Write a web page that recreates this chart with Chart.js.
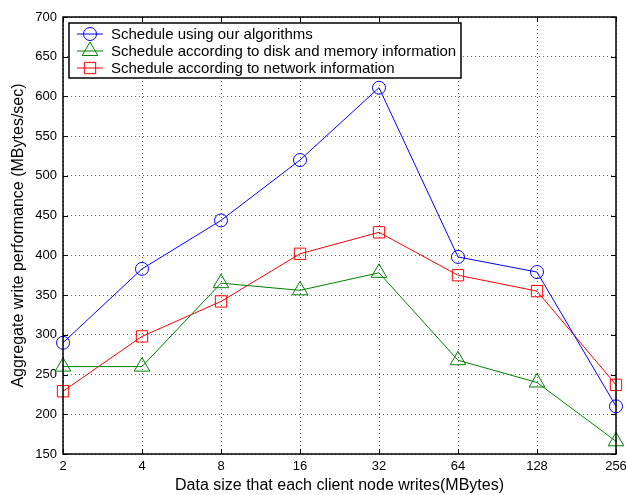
<!DOCTYPE html>
<html>
<head>
<meta charset="utf-8">
<script src="https://cdn.jsdelivr.net/npm/chart.js@4.4.1/dist/chart.umd.min.js"></script>
<style>
  html, body { margin: 0; padding: 0; background: #fff; }
  #wrap { width: 626px; height: 495px; position: relative; }
</style>
</head>
<body>
<div id="wrap"><canvas id="chWrite"></canvas></div>
<script>
// Data size per client node (MBytes) and aggregate write throughput (MBytes/sec)
const sizes = ['2', '4', '8', '16', '32', '64', '128', '256'];
const ourAlgo = [290, 383, 444, 520, 611, 398, 379, 210];
const diskMem = [260, 260, 365, 356, 378, 268, 240, 166];
const netInfo = [229, 298, 342, 402, 429, 375, 355, 237];

const seriesNames = [
  'Schedule using our algorithms',
  'Schedule according to disk and memory information',
  'Schedule according to network information'
];

const FONT = '"Liberation Sans", Arial, Helvetica, sans-serif';

// frame round the plot + small inward tick marks on all four sides
const framePlugin = {
  id: 'frame',
  afterDraw(chart) {
    const { ctx, chartArea: a, scales } = chart;
    ctx.save();
    ctx.strokeStyle = '#000';
    ctx.lineWidth = 1.5;
    ctx.strokeRect(a.left, a.top, a.right - a.left, a.bottom - a.top);
    ctx.lineWidth = 1;
    ctx.beginPath();
    scales.x.ticks.forEach((t, i) => {
      const x = Math.round(scales.x.getPixelForTick(i)) + 0.5;
      ctx.moveTo(x, a.bottom); ctx.lineTo(x, a.bottom - 5);
      ctx.moveTo(x, a.top); ctx.lineTo(x, a.top + 5);
    });
    scales.y.ticks.forEach(t => {
      const y = Math.round(scales.y.getPixelForValue(t.value)) + 0.5;
      ctx.moveTo(a.left, y); ctx.lineTo(a.left + 5, y);
      ctx.moveTo(a.right, y); ctx.lineTo(a.right - 5, y);
    });
    ctx.stroke();
    ctx.restore();
  }
};

// boxed legend inside the top-left corner of the plot
const boxLegend = {
  id: 'boxLegend',
  afterDraw(chart) {
    const { ctx, chartArea: a } = chart;
    const x0 = a.left + 6, y0 = a.top + 6, w = 392, rowH = 17;
    ctx.save();
    ctx.fillStyle = '#fff';
    ctx.fillRect(x0, y0, w, rowH * 3 + 4);
    ctx.strokeStyle = '#000';
    ctx.lineWidth = 1.5;
    ctx.strokeRect(x0, y0, w, rowH * 3 + 4);
    ctx.font = '15px ' + FONT;
    ctx.textBaseline = 'middle';
    chart.data.datasets.forEach((ds, i) => {
      const y = y0 + 11 + i * rowH;
      ctx.strokeStyle = ds.borderColor;
      ctx.lineWidth = 1;
      ctx.beginPath();
      ctx.moveTo(x0 + 8, y); ctx.lineTo(x0 + 34, y);
      ctx.stroke();
      ctx.fillStyle = 'rgba(0,0,0,0)';
      Chart.helpers.drawPoint(ctx, {
        pointStyle: ds.pointStyle, radius: ds.pointRadius, borderWidth: 1
      }, x0 + 21, y);
      ctx.fillStyle = '#000';
      ctx.fillText(ds.label, x0 + 42, y + 1);
    });
    ctx.restore();
  }
};

function mkSet(label, data, color, style, r) {
  return {
    label, data,
    borderColor: color, backgroundColor: 'transparent',
    borderWidth: 1, tension: 0,
    pointStyle: style, pointRadius: r, pointHoverRadius: r,
    pointBorderColor: color, pointBackgroundColor: 'transparent', pointBorderWidth: 1
  };
}

new Chart(document.getElementById('chWrite'), {
  type: 'line',
  data: {
    labels: sizes,
    datasets: [
      mkSet(seriesNames[0], ourAlgo, '#0000ff', 'circle', 6.5),
      mkSet(seriesNames[1], diskMem, '#008000', 'triangle', 9),
      mkSet(seriesNames[2], netInfo, '#ff0000', 'rect', 8)
    ]
  },
  options: {
    responsive: true, maintainAspectRatio: false, animation: false,
    layout: { padding: { left: 0, right: 9, top: 17, bottom: 0 } },
    plugins: {
      legend: { display: false },
      tooltip: { enabled: false }
    },
    scales: {
      x: {
        offset: false,
        grid: { color: '#666', drawTicks: false, lineWidth: 1 },
        border: { display: false, dash: [1, 3] },
        ticks: { color: '#000', font: { family: FONT, size: 13 }, padding: 5, maxRotation: 0, autoSkip: false },
        title: { display: true, text: 'Data size that each client node writes(MBytes)', color: '#000',
                 font: { family: FONT, size: 16 }, padding: { top: 6, bottom: 0 } },
        afterFit: s => { s.height = 41; s.paddingRight = 0; s.paddingLeft = 0; }
      },
      y: {
        min: 150, max: 700,
        grid: { color: '#666', drawTicks: false, lineWidth: 1 },
        border: { display: false, dash: [1, 3] },
        ticks: { stepSize: 50, color: '#000', font: { family: FONT, size: 13 }, padding: 6 },
        title: { display: true, text: 'Aggregate write performance (MBytes/sec)', color: '#000',
                 font: { family: FONT, size: 16 }, padding: { top: 9, bottom: 2 } },
        afterFit: s => { s.width = 63; s.paddingTop = 0; s.paddingBottom = 0; }
      }
    }
  },
  plugins: [framePlugin, boxLegend]
});
</script>
</body>
</html>
